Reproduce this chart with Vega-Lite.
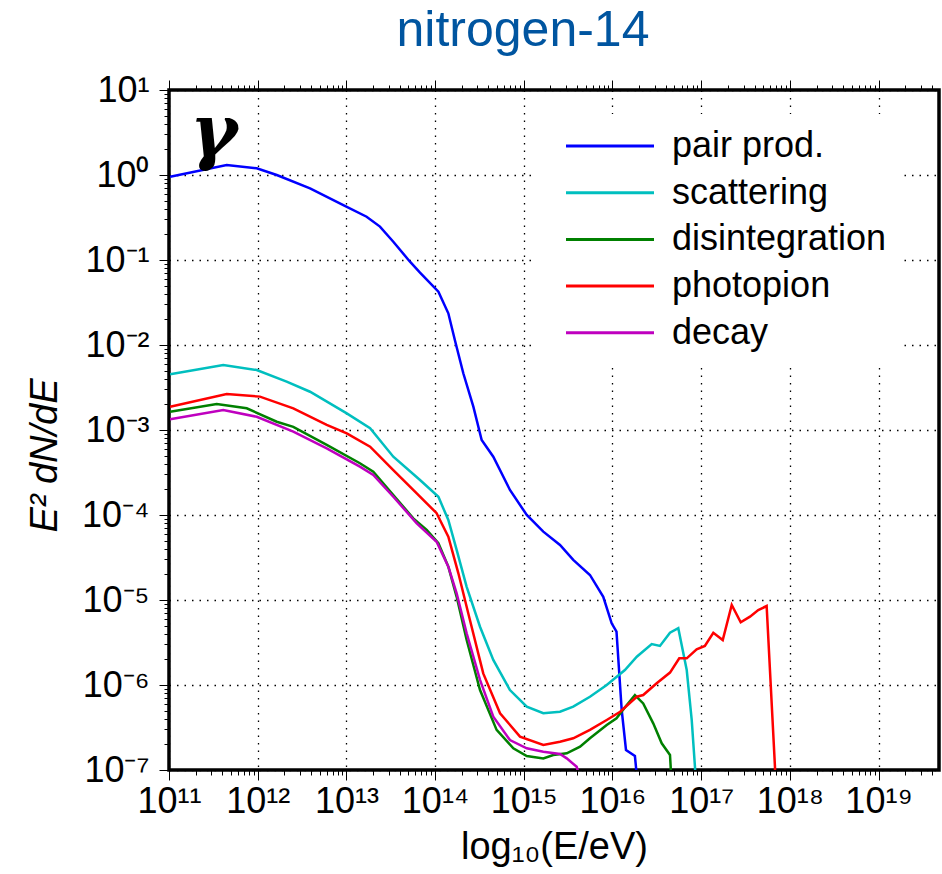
{
  "$schema": "https://vega.github.io/schema/vega-lite/v6.json",
  "width": 770,
  "height": 680,
  "autosize": "none",
  "padding": {"left": 169, "top": 90, "right": 3, "bottom": 104},
  "background": "white",
  "title": {"text": "nitrogen-14", "font": "Liberation Sans", "fontSize": 50, "fontWeight": "normal", "color": "#0055a0", "anchor": "middle", "dx": -31, "dy": 57, "baseline": "alphabetic", "offset": 33},
  "config": {
    "view": {"stroke": "black", "strokeWidth": 3.5},
    "axis": {"domain": false, "tickColor": "black", "labelColor": "black", "titleColor": "black", "labelFont": "Liberation Sans", "titleFont": "Liberation Sans", "gridColor": "black", "gridDash": [1.5, 6], "gridWidth": 1.3, "labelOverlap": false, "labelFlush": false, "tickCount": 100}
  },
  "datasets": {
    "curves": [
      {"process": "pair prod.", "E": 1.03e11, "flux": 0.955},
      {"process": "pair prod.", "E": 4.47e11, "flux": 1.31},
      {"process": "pair prod.", "E": 9.75e11, "flux": 1.20},
      {"process": "pair prod.", "E": 1.64e12, "flux": 1.0},
      {"process": "pair prod.", "E": 3.89e12, "flux": 0.698},
      {"process": "pair prod.", "E": 9.23e12, "flux": 0.443},
      {"process": "pair prod.", "E": 1.69e13, "flux": 0.323},
      {"process": "pair prod.", "E": 2.39e13, "flux": 0.247},
      {"process": "pair prod.", "E": 3.38e13, "flux": 0.164},
      {"process": "pair prod.", "E": 5.21e13, "flux": 0.0955},
      {"process": "pair prod.", "E": 6.76e13, "flux": 0.0710},
      {"process": "pair prod.", "E": 1.09e14, "flux": 0.0424},
      {"process": "pair prod.", "E": 1.41e14, "flux": 0.0236},
      {"process": "pair prod.", "E": 1.67e14, "flux": 0.01146},
      {"process": "pair prod.", "E": 2.08e14, "flux": 0.00465},
      {"process": "pair prod.", "E": 2.70e14, "flux": 0.00188},
      {"process": "pair prod.", "E": 3.35e14, "flux": 7.62e-4},
      {"process": "pair prod.", "E": 4.53e14, "flux": 4.85e-4},
      {"process": "pair prod.", "E": 6.98e14, "flux": 1.97e-4},
      {"process": "pair prod.", "E": 1.08e15, "flux": 1.0e-4},
      {"process": "pair prod.", "E": 1.66e15, "flux": 6.37e-5},
      {"process": "pair prod.", "E": 2.56e15, "flux": 4.44e-5},
      {"process": "pair prod.", "E": 3.61e15, "flux": 2.96e-5},
      {"process": "pair prod.", "E": 5.57e15, "flux": 1.97e-5},
      {"process": "pair prod.", "E": 7.87e15, "flux": 1.09e-5},
      {"process": "pair prod.", "E": 9.79e15, "flux": 5.32e-6},
      {"process": "pair prod.", "E": 1.11e16, "flux": 4.24e-6},
      {"process": "pair prod.", "E": 1.27e16, "flux": 5.08e-7},
      {"process": "pair prod.", "E": 1.42e16, "flux": 1.72e-7},
      {"process": "pair prod.", "E": 1.79e16, "flux": 1.46e-7},
      {"process": "pair prod.", "E": 1.84e16, "flux": 1.09e-7},
      {"process": "pair prod.", "E": 1.91e16, "flux": 5.8e-8},

      {"process": "scattering", "E": 1.03e11, "flux": 4.52e-3},
      {"process": "scattering", "E": 4.09e11, "flux": 5.82e-3},
      {"process": "scattering", "E": 9.75e11, "flux": 5.08e-3},
      {"process": "scattering", "E": 2.12e12, "flux": 3.70e-3},
      {"process": "scattering", "E": 3.89e12, "flux": 2.82e-3},
      {"process": "scattering", "E": 1.01e13, "flux": 1.57e-3},
      {"process": "scattering", "E": 1.85e13, "flux": 1.05e-3},
      {"process": "scattering", "E": 3.38e13, "flux": 4.85e-4},
      {"process": "scattering", "E": 6.76e13, "flux": 2.58e-4},
      {"process": "scattering", "E": 1.09e14, "flux": 1.64e-4},
      {"process": "scattering", "E": 1.41e14, "flux": 8.73e-5},
      {"process": "scattering", "E": 1.75e14, "flux": 3.88e-5},
      {"process": "scattering", "E": 2.27e14, "flux": 1.43e-5},
      {"process": "scattering", "E": 3.21e14, "flux": 4.85e-6},
      {"process": "scattering", "E": 4.53e14, "flux": 1.97e-6},
      {"process": "scattering", "E": 6.98e14, "flux": 8.73e-7},
      {"process": "scattering", "E": 1.08e15, "flux": 5.56e-7},
      {"process": "scattering", "E": 1.66e15, "flux": 4.65e-7},
      {"process": "scattering", "E": 2.56e15, "flux": 4.85e-7},
      {"process": "scattering", "E": 3.61e15, "flux": 5.56e-7},
      {"process": "scattering", "E": 5.57e15, "flux": 7.28e-7},
      {"process": "scattering", "E": 8.61e15, "flux": 1.0e-6},
      {"process": "scattering", "E": 1.38e16, "flux": 1.50e-6},
      {"process": "scattering", "E": 1.88e16, "flux": 2.15e-6},
      {"process": "scattering", "E": 2.77e16, "flux": 3.03e-6},
      {"process": "scattering", "E": 3.43e16, "flux": 2.88e-6},
      {"process": "scattering", "E": 4.45e16, "flux": 4.12e-6},
      {"process": "scattering", "E": 5.52e16, "flux": 4.65e-6},
      {"process": "scattering", "E": 6.87e16, "flux": 1.50e-6},
      {"process": "scattering", "E": 7.82e16, "flux": 3.88e-7},
      {"process": "scattering", "E": 8.51e16, "flux": 1.09e-7},
      {"process": "scattering", "E": 8.73e16, "flux": 5.8e-8},

      {"process": "disintegration", "E": 1.03e11, "flux": 1.64e-3},
      {"process": "disintegration", "E": 3.45e11, "flux": 2.02e-3},
      {"process": "disintegration", "E": 7.52e11, "flux": 1.80e-3},
      {"process": "disintegration", "E": 1.64e12, "flux": 1.25e-3},
      {"process": "disintegration", "E": 2.52e12, "flux": 1.09e-3},
      {"process": "disintegration", "E": 6.0e12, "flux": 6.67e-4},
      {"process": "disintegration", "E": 1.42e13, "flux": 4.06e-4},
      {"process": "disintegration", "E": 2.01e13, "flux": 3.23e-4},
      {"process": "disintegration", "E": 3.38e13, "flux": 1.72e-4},
      {"process": "disintegration", "E": 5.68e13, "flux": 9.14e-5},
      {"process": "disintegration", "E": 8.04e13, "flux": 6.67e-5},
      {"process": "disintegration", "E": 1.09e14, "flux": 4.65e-5},
      {"process": "disintegration", "E": 1.41e14, "flux": 2.47e-5},
      {"process": "disintegration", "E": 1.75e14, "flux": 1.09e-5},
      {"process": "disintegration", "E": 2.27e14, "flux": 3.38e-6},
      {"process": "disintegration", "E": 3.21e14, "flux": 8.73e-7},
      {"process": "disintegration", "E": 4.94e14, "flux": 2.96e-7},
      {"process": "disintegration", "E": 7.62e14, "flux": 1.80e-7},
      {"process": "disintegration", "E": 1.08e15, "flux": 1.46e-7},
      {"process": "disintegration", "E": 1.66e15, "flux": 1.37e-7},
      {"process": "disintegration", "E": 2.15e15, "flux": 1.50e-7},
      {"process": "disintegration", "E": 3.05e15, "flux": 1.57e-7},
      {"process": "disintegration", "E": 4.31e15, "flux": 1.88e-7},
      {"process": "disintegration", "E": 5.57e15, "flux": 2.36e-7},
      {"process": "disintegration", "E": 8.61e15, "flux": 3.38e-7},
      {"process": "disintegration", "E": 1.11e16, "flux": 4.06e-7},
      {"process": "disintegration", "E": 1.45e16, "flux": 5.82e-7},
      {"process": "disintegration", "E": 1.79e16, "flux": 7.62e-7},
      {"process": "disintegration", "E": 2.22e16, "flux": 6.08e-7},
      {"process": "disintegration", "E": 2.88e16, "flux": 3.54e-7},
      {"process": "disintegration", "E": 3.59e16, "flux": 2.06e-7},
      {"process": "disintegration", "E": 4.45e16, "flux": 1.50e-7},
      {"process": "disintegration", "E": 4.53e16, "flux": 1.09e-7},
      {"process": "disintegration", "E": 4.57e16, "flux": 5.8e-8},

      {"process": "photopion", "E": 1.03e11, "flux": 1.88e-3},
      {"process": "photopion", "E": 4.47e11, "flux": 2.65e-3},
      {"process": "photopion", "E": 1.06e12, "flux": 2.47e-3},
      {"process": "photopion", "E": 2.52e12, "flux": 1.80e-3},
      {"process": "photopion", "E": 6.0e12, "flux": 1.15e-3},
      {"process": "photopion", "E": 1.01e13, "flux": 9.14e-4},
      {"process": "photopion", "E": 1.85e13, "flux": 6.37e-4},
      {"process": "photopion", "E": 3.38e13, "flux": 3.38e-4},
      {"process": "photopion", "E": 6.21e13, "flux": 1.80e-4},
      {"process": "photopion", "E": 1.04e14, "flux": 1.05e-4},
      {"process": "photopion", "E": 1.41e14, "flux": 5.56e-5},
      {"process": "photopion", "E": 1.83e14, "flux": 2.06e-5},
      {"process": "photopion", "E": 2.47e14, "flux": 5.82e-6},
      {"process": "photopion", "E": 3.49e14, "flux": 1.37e-6},
      {"process": "photopion", "E": 5.40e14, "flux": 4.65e-7},
      {"process": "photopion", "E": 9.06e14, "flux": 2.47e-7},
      {"process": "photopion", "E": 1.66e15, "flux": 1.97e-7},
      {"process": "photopion", "E": 2.56e15, "flux": 2.15e-7},
      {"process": "photopion", "E": 3.61e15, "flux": 2.36e-7},
      {"process": "photopion", "E": 5.57e15, "flux": 2.96e-7},
      {"process": "photopion", "E": 8.61e15, "flux": 3.88e-7},
      {"process": "photopion", "E": 1.22e16, "flux": 4.85e-7},
      {"process": "photopion", "E": 1.88e16, "flux": 7.28e-7},
      {"process": "photopion", "E": 2.22e16, "flux": 7.62e-7},
      {"process": "photopion", "E": 3.15e16, "flux": 1.05e-6},
      {"process": "photopion", "E": 4.45e16, "flux": 1.40e-6},
      {"process": "photopion", "E": 5.66e16, "flux": 2.06e-6},
      {"process": "photopion", "E": 6.87e16, "flux": 2.06e-6},
      {"process": "photopion", "E": 8.89e16, "flux": 2.63e-6},
      {"process": "photopion", "E": 1.10e17, "flux": 2.88e-6},
      {"process": "photopion", "E": 1.37e17, "flux": 4.12e-6},
      {"process": "photopion", "E": 1.75e17, "flux": 3.38e-6},
      {"process": "photopion", "E": 2.21e17, "flux": 8.73e-6},
      {"process": "photopion", "E": 2.79e17, "flux": 5.47e-6},
      {"process": "photopion", "E": 3.55e17, "flux": 6.37e-6},
      {"process": "photopion", "E": 4.40e17, "flux": 7.62e-6},
      {"process": "photopion", "E": 5.47e17, "flux": 8.49e-6},
      {"process": "photopion", "E": 6.79e17, "flux": 1.09e-7},
      {"process": "photopion", "E": 6.89e17, "flux": 5.8e-8},

      {"process": "decay", "E": 1.03e11, "flux": 1.34e-3},
      {"process": "decay", "E": 4.09e11, "flux": 1.72e-3},
      {"process": "decay", "E": 9.75e11, "flux": 1.43e-3},
      {"process": "decay", "E": 2.52e12, "flux": 9.55e-4},
      {"process": "decay", "E": 6.0e12, "flux": 6.09e-4},
      {"process": "decay", "E": 1.42e13, "flux": 3.70e-4},
      {"process": "decay", "E": 2.01e13, "flux": 2.96e-4},
      {"process": "decay", "E": 3.38e13, "flux": 1.64e-4},
      {"process": "decay", "E": 6.21e13, "flux": 7.98e-5},
      {"process": "decay", "E": 1.04e14, "flux": 4.85e-5},
      {"process": "decay", "E": 1.41e14, "flux": 2.47e-5},
      {"process": "decay", "E": 1.75e14, "flux": 1.20e-5},
      {"process": "decay", "E": 2.27e14, "flux": 4.06e-6},
      {"process": "decay", "E": 3.21e14, "flux": 1.15e-6},
      {"process": "decay", "E": 4.53e14, "flux": 4.24e-7},
      {"process": "decay", "E": 6.98e14, "flux": 2.25e-7},
      {"process": "decay", "E": 1.08e15, "flux": 1.80e-7},
      {"process": "decay", "E": 1.66e15, "flux": 1.64e-7},
      {"process": "decay", "E": 2.56e15, "flux": 1.54e-7},
      {"process": "decay", "E": 3.05e15, "flux": 1.37e-7},
      {"process": "decay", "E": 3.95e15, "flux": 1.09e-7},
      {"process": "decay", "E": 4.31e15, "flux": 7.9e-8}
    ],
    "annot": [{"label": "γ", "E": 3.2e11, "flux": 3.0}]
  },
  "resolve": {"axis": {"x": "independent"}},
  "layer": [
    {
      "data": {"name": "curves"},
      "mark": {"type": "line", "strokeWidth": 2.5, "clip": true},
      "encoding": {
        "x": {"field": "E", "type": "quantitative",
          "scale": {"type": "log", "domain": [1e11, 4.8e19], "nice": false},
          "axis": {"orient": "bottom", "title": "log₁₀(E/eV)", "titleFontSize": 38, "titleFontWeight": "normal", "titleBaseline": "alphabetic", "titleY": 88,
            "labelFontSize": 36, "labelPadding": 4,
            "labelExpr": "abs(log(datum.value)/LN10 - round(log(datum.value)/LN10)) < 1e-6 ? {'11':'10¹¹','12':'10¹²','13':'10¹³','14':'10¹⁴','15':'10¹⁵','16':'10¹⁶','17':'10¹⁷','18':'10¹⁸','19':'10¹⁹'}['' + round(log(datum.value)/LN10)] : ''",
            "tickSize": {"condition": {"test": "abs(log(datum.value)/LN10 - round(log(datum.value)/LN10)) < 1e-6", "value": 10}, "value": 5},
            "gridOpacity": {"condition": {"test": "abs(log(datum.value)/LN10 - round(log(datum.value)/LN10)) < 1e-6", "value": 1}, "value": 0}}},
        "y": {"field": "flux", "type": "quantitative",
          "scale": {"type": "log", "domain": [1e-7, 10], "nice": false},
          "axis": {"title": "E² dN/dE", "titleFontSize": 38, "titleFontWeight": "normal", "titleFontStyle": "italic", "titleAngle": -90, "titleX": -124, "titleY": 365, "titleAlign": "center", "titleBaseline": "middle",
            "labelFontSize": 36, "labelPadding": 10,
            "labelExpr": "abs(log(datum.value)/LN10 - round(log(datum.value)/LN10)) < 1e-6 ? {'1':'10¹','0':'10⁰','-1':'10⁻¹','-2':'10⁻²','-3':'10⁻³','-4':'10⁻⁴','-5':'10⁻⁵','-6':'10⁻⁶','-7':'10⁻⁷'}['' + round(log(datum.value)/LN10)] : ''",
            "tickSize": {"condition": {"test": "abs(log(datum.value)/LN10 - round(log(datum.value)/LN10)) < 1e-6", "value": 10}, "value": 5},
            "gridOpacity": {"condition": {"test": "abs(log(datum.value)/LN10 - round(log(datum.value)/LN10)) < 1e-6", "value": 1}, "value": 0}}},
        "color": {"field": "process", "type": "nominal",
          "scale": {"domain": ["pair prod.", "scattering", "disintegration", "photopion", "decay"], "range": ["#0000ff", "#00bfbf", "#008000", "#ff0000", "#bf00bf"]},
          "legend": {"orient": "none", "legendX": 365, "legendY": 24, "title": null, "symbolType": "M0,0H8", "symbolSize": 484, "symbolStrokeWidth": 3, "labelFontSize": 36, "labelFont": "Liberation Sans", "labelColor": "black", "labelOffset": 88, "labelLimit": 0, "fillColor": "white", "padding": 14, "rowPadding": 10.7}}
      }
    },
    {
      "data": {"name": "annot"},
      "mark": {"type": "text", "font": "DejaVu Serif", "fontSize": 72, "fontWeight": "bold", "fontStyle": "italic", "baseline": "middle", "align": "center", "color": "black"},
      "encoding": {
        "x": {"field": "E", "type": "quantitative",
          "axis": {"orient": "top", "title": null, "labels": false, "grid": false, "domain": false,
            "tickSize": {"condition": {"test": "abs(log(datum.value)/LN10 - round(log(datum.value)/LN10)) < 1e-6", "value": 10}, "value": 5}}},
        "y": {"field": "flux", "type": "quantitative"},
        "text": {"field": "label"}
      }
    }
  ]
}
